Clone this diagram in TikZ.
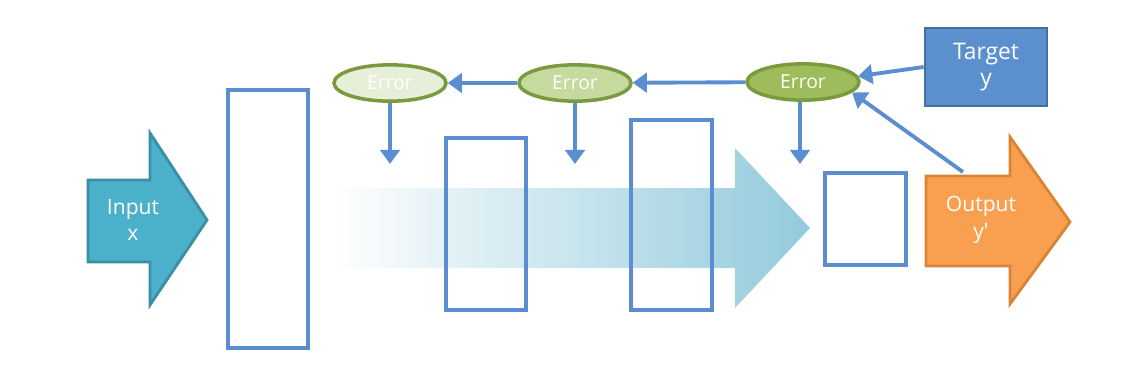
\documentclass[tikz,border=0pt]{standalone}
\usepackage{fontspec}
\setmainfont{Open Sans}
\usetikzlibrary{arrows.meta, positioning, shapes.geometric}
\definecolor{layblue}{HTML}{5B8ED0}
\definecolor{tgtblue}{HTML}{5B8FCD}
\definecolor{tgtedge}{HTML}{41719C}
\definecolor{inteal}{HTML}{4BB1CA}
\definecolor{inedge}{HTML}{3A8FA6}
\definecolor{outorange}{HTML}{F8A04F}
\definecolor{outedge}{HTML}{D98434}
\definecolor{erredge}{HTML}{7A9A3E}
\definecolor{errfillA}{HTML}{E8EFD9}
\definecolor{errfillB}{HTML}{C6D99E}
\definecolor{errfillC}{HTML}{9DBD5C}
\definecolor{flowblue}{HTML}{93CADC}

\begin{document}
\begin{tikzpicture}[
    x=0.02cm, y=-0.02cm,
    layer/.style={draw=layblue, line width=2.2pt, minimum width=1.6cm},
    errnode/.style={ellipse, draw=erredge, line width=2pt,
                    minimum width=2.24cm, minimum height=0.68cm,
                    text=white, font=\fontsize{11}{12}\selectfont},
    conn/.style={draw=layblue, line width=2.2pt,
                 -{Triangle[length=8pt, width=11pt]}},
    label/.style={text=white, align=center,
                  font=\fontsize{12}{15}\selectfont},
  ]
  \useasboundingbox (0,0) rectangle (1144,366);

  % forward flow
  \shade[left color=white, right color=flowblue]
    (330,188) -- (735,188) -- (735,148) -- (810,228) -- (735,308)
    -- (735,268) -- (330,268) -- cycle;

  % hidden layers
  \node[layer, minimum height=5.16cm] (h1) at (268,219) {};
  \node[layer, minimum height=3.44cm] (h2) at (486,224) {};
  \node[layer, minimum width=1.62cm, minimum height=3.8cm] (h3) at (671.5,215) {};
  \node[layer, minimum width=1.62cm, minimum height=1.84cm] (h4) at (865.5,219) {};

  % input and output
  \draw[fill=inteal, draw=inedge, line width=1.6pt]
    (88,180) -- (150,180) -- (150,133) -- (207,220) -- (150,305)
    -- (150,262) -- (88,262) -- cycle;
  \node[label] (in) at (133,220) {Input\\x};

  \draw[fill=outorange, draw=outedge, line width=1.6pt]
    (926,176) -- (1010,176) -- (1010,137) -- (1070,222) -- (1010,304)
    -- (1010,266) -- (926,266) -- cycle;
  \node[label] (out) at (981,220) {Output\\y\textquotesingle};
  \coordinate (outtop) at (963,172);

  % target
  \node[draw=tgtedge, fill=tgtblue, line width=1.6pt,
        minimum width=2.44cm, minimum height=1.56cm,
        label, font=\fontsize{13}{15}\selectfont] (tgt) at (986,67) {Target\\y};

  % errors
  \node[errnode, fill=errfillA] (err1) at (390,83) {Error};
  \node[errnode, fill=errfillB] (err2) at (575,83) {Error};
  \node[errnode, fill=errfillC] (err3) at (803,82) {Error};

  \draw[conn] (tgt.west) -- (err3.6);
  \draw[conn] (outtop) -- (err3.-12);
  \draw[conn] (err3) -- (err2);
  \draw[conn] (err2) -- (err1);

  \coordinate (d1) at (390,164);
  \coordinate (d2) at (575,164);
  \coordinate (d3) at (800,164);
  \draw[conn] (err1.south) -- (d1);
  \draw[conn] (err2.south) -- (d2);
  \draw[conn] (err3.south -| d3) -- (d3);
\end{tikzpicture}
\end{document}
